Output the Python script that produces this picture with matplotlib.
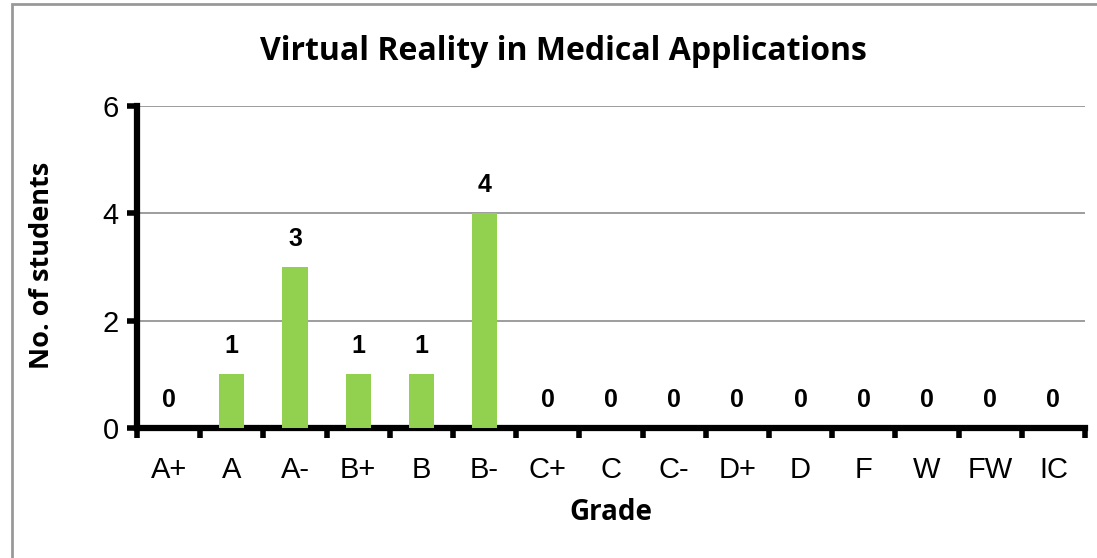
import matplotlib.pyplot as plt
from matplotlib.patches import Rectangle
import numpy as np

grades = ["A+", "A", "A-", "B+", "B", "B-", "C+", "C", "C-", "D+", "D", "F", "W", "FW", "IC"]
students = [0, 1, 3, 1, 1, 4, 0, 0, 0, 0, 0, 0, 0, 0, 0]
y_ticks = [0, 2, 4, 6]

W, H = 1097, 558
fig = plt.figure(figsize=(W / 100, H / 100), dpi=100)
ax = fig.add_axes([137 / W, 1 - 428 / H, 948 / W, 322 / H])

# chart area border
fig.patches.append(Rectangle((12 / W, -0.2), 1.5, 1.2 - 4 / H, transform=fig.transFigure,
                             fill=False, edgecolor="#999999", linewidth=2))

x = np.arange(len(grades))
ax.bar(x, students, width=0.4, color="#92D050", zorder=3)
for xi, v in zip(x, students):
    ax.text(xi, v + 0.3, str(v), ha="center", va="bottom", fontsize=18,
            fontweight="bold", family="Liberation Sans")

ax.set_xlim(-0.5, len(grades) - 0.5)
ax.set_ylim(0, 6)
ax.set_yticks(y_ticks)
ax.set_yticklabels([str(t) for t in y_ticks], fontsize=21, family="Liberation Sans")
ax.yaxis.grid(True, color="#8c8c8c", linewidth=1.2, zorder=0)
ax.set_axisbelow(True)

# ticks between categories, labels centered on bars
ax.set_xticks(np.arange(len(grades) + 1) - 0.5)
ax.set_xticklabels([])
ax.set_xticks(x, minor=True)
ax.set_xticklabels(grades, minor=True, fontsize=21, family="Liberation Sans")
ax.tick_params(axis="x", which="minor", length=0, pad=20)
ax.tick_params(axis="x", which="major", length=7, width=4, direction="out")
ax.tick_params(axis="y", length=7, width=4, direction="out", pad=6)

for s in ["top", "right"]:
    ax.spines[s].set_visible(False)
ax.spines["left"].set_linewidth(4.5)
ax.spines["bottom"].set_linewidth(4.5)

fig.text(563 / W, 1 - 51 / H, "Virtual Reality in Medical Applications", ha="center", va="center",
         fontsize=23, fontweight="bold", family="Open Sans")
fig.text(42 / W, 1 - 265 / H, "No. of students", rotation=90, ha="center", va="center",
         fontsize=19.5, fontweight="bold", family="Open Sans")
fig.text(611 / W, 1 - 512 / H, "Grade", ha="center", va="center",
         fontsize=20, fontweight="bold", family="Open Sans")

fig.savefig("out.png", dpi=100)
